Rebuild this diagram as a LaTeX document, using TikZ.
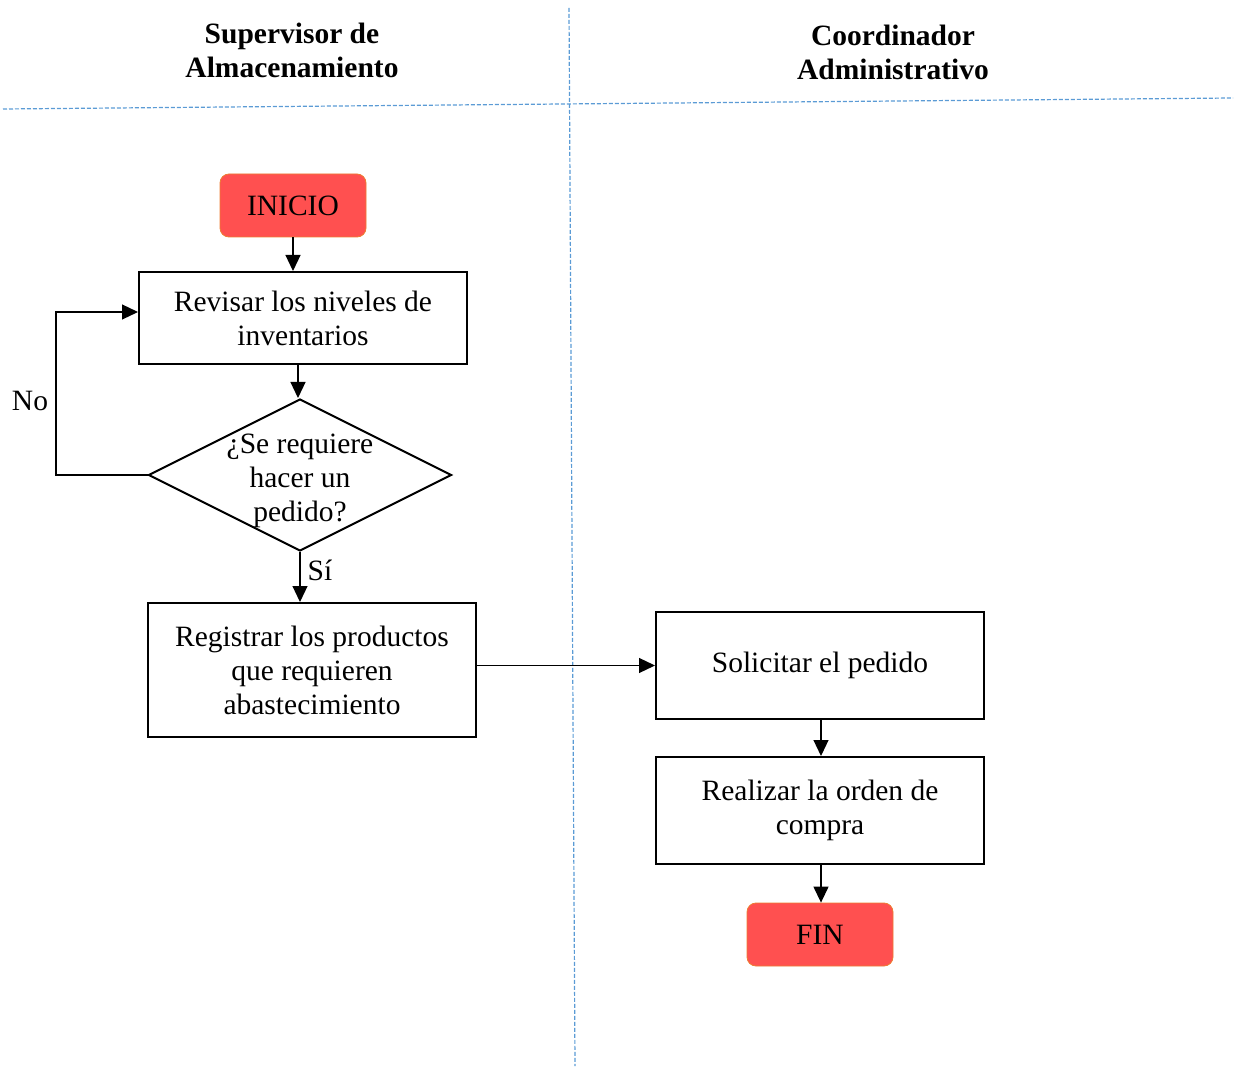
\documentclass[tikz,border=0pt]{standalone}
\usepackage{fontspec}
\setmainfont{Liberation Serif}
\usetikzlibrary{shapes.geometric,arrows.meta}
\definecolor{termfill}{HTML}{FF5050}
\definecolor{termedge}{HTML}{ED7D31}
\definecolor{lanecol}{HTML}{5B9BD5}
\tikzset{
  txtfont/.style={font=\fontsize{29.5pt}{34pt}\selectfont},
  procbox/.style={draw, line width=2pt, txtfont, align=center, inner sep=0pt},
  termbox/.style={draw=termedge, fill=termfill, line width=0.8pt, rounded corners=9pt, txtfont, inner sep=0pt, minimum width=146pt, minimum height=63pt},
  decbox/.style={draw, diamond, line width=2pt, inner sep=0pt, minimum width=303pt, minimum height=152pt},
  plain/.style={txtfont, align=center, inner sep=0pt},
  headtxt/.style={font=\bfseries\fontsize{29.5pt}{34pt}\selectfont, align=center, inner sep=0pt},
  arr/.style={-{Triangle[length=16pt,width=15pt]}, line width=1.2pt},
  lane/.style={draw=lanecol, line width=1.2pt, dash pattern=on 4pt off 2pt}
}
\begin{document}
\begin{tikzpicture}[x=1pt,y=-1pt]
\useasboundingbox (0,0) rectangle (1235,1067);
% lanes
\coordinate (vtop) at (569,8);
\coordinate (vbot) at (575,1066);
\coordinate (hl) at (3,109);
\coordinate (hr) at (1233,98);
\draw[lane] (vtop) -- (vbot);
\draw[lane] (hl) -- (hr);
% headers
\node[headtxt] (h1) at (292,50) {Supervisor de\\Almacenamiento};
\node[headtxt] (h2) at (893,52) {Coordinador\\Administrativo};
% nodes
\node[termbox] (ini) at (293,205.5) {INICIO};
\node[procbox, minimum width=328pt, minimum height=92pt] (rev) at (303,318) {Revisar los niveles de\\inventarios};
\node[decbox] (dec) at (300,475) {};
\node[plain] (dect) at (300,481) {¿Se requiere\\hacer un\\pedido?};
\node[procbox, minimum width=328pt, minimum height=134pt] (reg) at (312,670) {Registrar los productos\\que requieren\\abastecimiento};
\node[procbox, minimum width=328pt, minimum height=107pt] (sol) at (820,665.5) {Solicitar el pedido};
\node[procbox, minimum width=328pt, minimum height=107pt] (rea) at (820,810.5) {Realizar la orden de\\compra};
\node[termbox] (fin) at (820,934.5) {FIN};
% labels
\node[plain] (nolab) at (30,401) {No};
\node[plain] (silab) at (320,570) {Sí};
% helper coordinates
\coordinate (xa) at (298,0);
\coordinate (xb) at (821,0);
\coordinate (nocorner) at (56,312);
% connectors
\draw[arr] (ini.south) -- (ini.south |- rev.north);
\draw[arr] (xa |- rev.south) -- (xa |- dec.north);
\draw[arr] (dec.west) -| (nocorner) -- (rev.west |- nocorner);
\draw[arr] (dec.south) -- (dec.south |- reg.north);
\draw[arr] (reg.east |- sol.west) -- (sol.west);
\draw[arr] (xb |- sol.south) -- (xb |- rea.north);
\draw[arr] (xb |- rea.south) -- (xb |- fin.north);
\end{tikzpicture}
\end{document}
